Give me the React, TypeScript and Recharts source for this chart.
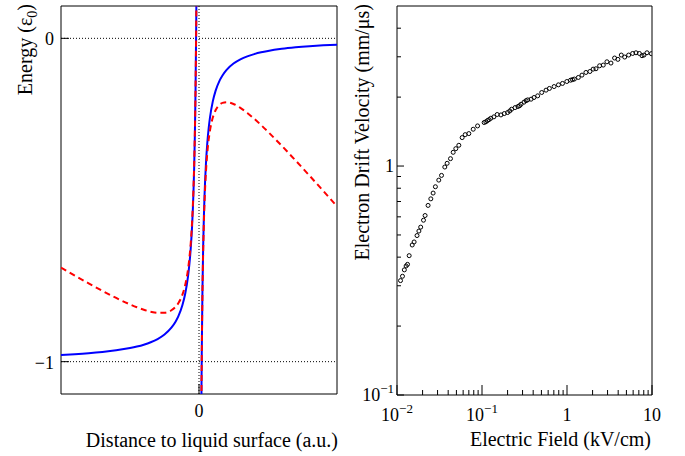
import React from 'react';
import { LineChart, ComposedChart, Line, Scatter, XAxis, YAxis, ReferenceLine, ReferenceArea } from 'recharts';

const FONT = '"Liberation Serif", "Times New Roman", Times, serif';

// ---------- Left panel: energy vs distance to liquid surface ----------
const distLiquid = [-1, -0.9, -0.8, -0.7, -0.6, -0.5, -0.45, -0.4, -0.35, -0.3, -0.25, -0.2, -0.17, -0.15, -0.12, -0.1, -0.08, -0.07, -0.06, -0.05, -0.04, -0.035, -0.03, -0.025, -0.02, -0.017, -0.015];
const blueLiquid = [-0.979, -0.9767, -0.9738, -0.97, -0.965, -0.958, -0.9533, -0.9475, -0.94, -0.93, -0.916, -0.895, -0.8765, -0.86, -0.825, -0.79, -0.7375, -0.7, -0.65, -0.58, -0.475, -0.4, -0.3, -0.16, 0.05, 0.235, 0.4];
const redLiquid = [-0.709, -0.7337, -0.7578, -0.781, -0.803, -0.823, -0.8318, -0.8395, -0.8455, -0.849, -0.8485, -0.841, -0.8306, -0.8195, -0.7926, -0.763, -0.7159, -0.6811, -0.6338, -0.5665, -0.4642, -0.3906, -0.2919, -0.1533, 0.0554, 0.2396, 0.404];

const distVacuum = [0.015, 0.017, 0.02, 0.025, 0.03, 0.035, 0.04, 0.05, 0.06, 0.07, 0.08, 0.1, 0.12, 0.15, 0.17, 0.2, 0.25, 0.3, 0.35, 0.4, 0.45, 0.5, 0.6, 0.7, 0.8, 0.9, 1.0];
const blueVacuum = [-1.3, -1.147, -0.975, -0.78, -0.65, -0.557, -0.4875, -0.39, -0.325, -0.2786, -0.2438, -0.195, -0.1625, -0.13, -0.1147, -0.0975, -0.078, -0.065, -0.0557, -0.0488, -0.0433, -0.039, -0.0325, -0.0279, -0.0244, -0.0217, -0.0195];
const redVacuum = [-1.3075, -1.1555, -0.985, -0.7925, -0.665, -0.5745, -0.5075, -0.415, -0.355, -0.3136, -0.2838, -0.245, -0.2225, -0.205, -0.1997, -0.1975, -0.203, -0.215, -0.2307, -0.2488, -0.2683, -0.289, -0.3325, -0.3779, -0.4244, -0.4717, -0.5195];

const leftXTicks = [0];
const leftYTicks = [-1, 0];

// ---------- Right panel: drift velocity vs electric field ----------
const fieldKVcm = [0.011, 0.0116, 0.0122, 0.0128, 0.0133, 0.0139, 0.0151, 0.0159, 0.0172, 0.0181, 0.019, 0.0205, 0.0214, 0.0232, 0.025, 0.0266, 0.0283, 0.031, 0.0334, 0.0365, 0.0389, 0.0426, 0.0458, 0.0492, 0.0534, 0.0584, 0.0634, 0.07, 0.0788, 0.0887, 0.106, 0.111, 0.116, 0.121, 0.127, 0.138, 0.151, 0.167, 0.183, 0.2, 0.212, 0.223, 0.245, 0.265, 0.277, 0.288, 0.312, 0.33, 0.345, 0.378, 0.409, 0.452, 0.504, 0.567, 0.621, 0.705, 0.793, 0.885, 0.995, 1.1, 1.16, 1.22, 1.36, 1.5, 1.67, 1.86, 2.03, 2.19, 2.42, 2.67, 2.95, 3.29, 3.63, 3.97, 4.35, 4.77, 5.31, 5.92, 6.48, 7.1, 7.63, 8.05, 8.73, 9.82];
const driftVelocity = [0.316, 0.33, 0.352, 0.366, 0.372, 0.406, 0.452, 0.466, 0.497, 0.52, 0.541, 0.58, 0.608, 0.673, 0.719, 0.762, 0.812, 0.868, 0.91, 0.99, 1.028, 1.077, 1.148, 1.191, 1.232, 1.331, 1.371, 1.386, 1.448, 1.497, 1.549, 1.56, 1.58, 1.595, 1.617, 1.64, 1.679, 1.672, 1.695, 1.713, 1.74, 1.771, 1.8, 1.82, 1.835, 1.862, 1.901, 1.93, 1.945, 1.959, 1.992, 2.026, 2.095, 2.145, 2.182, 2.224, 2.263, 2.295, 2.34, 2.371, 2.385, 2.398, 2.437, 2.495, 2.563, 2.588, 2.65, 2.66, 2.741, 2.76, 2.853, 2.817, 2.963, 2.924, 3.053, 2.992, 3.053, 3.103, 3.124, 3.103, 3.033, 3.053, 3.124, 3.096];

const fieldTicks = [0.01, 0.02, 0.03, 0.04, 0.05, 0.06, 0.07, 0.08, 0.09, 0.1, 0.2, 0.3, 0.4, 0.5, 0.6, 0.7, 0.8, 0.9, 1, 2, 3, 4, 5, 6, 7, 8, 9, 10];
const velocityTicks = [0.1, 0.2, 0.3, 0.4, 0.5, 0.6, 0.7, 0.8, 0.9, 1, 2, 3, 4];

const blueL = distLiquid.map((x, i) => ({ x, y: blueLiquid[i] }));
const redL = distLiquid.map((x, i) => ({ x, y: redLiquid[i] }));
const blueV = distVacuum.map((x, i) => ({ x, y: blueVacuum[i] }));
const redV = distVacuum.map((x, i) => ({ x, y: redVacuum[i] }));
const driftData = fieldKVcm.map((x, i) => ({ x, y: driftVelocity[i] }));

const isDecade = (v: number) => {
  const l = Math.log10(v);
  return Math.abs(l - Math.round(l)) < 1e-6;
};

const PowLabel = ({ v }: { v: number }) => {
  const e = Math.round(Math.log10(v));
  if (e === 0) return <tspan>1</tspan>;
  if (e === 1) return <tspan>10</tspan>;
  return (
    <>
      <tspan>10</tspan>
      <tspan dy={-8} fontSize={13}>{'\u2212' + Math.abs(e)}</tspan>
    </>
  );
};

const LeftXTick = (props: any) => {
  const { x, y, payload } = props;
  return (
    <g>
      <line x1={x} y1={y} x2={x} y2={y - 10} stroke="#000" strokeWidth={1} />
      <text x={x} y={y + 23} textAnchor="middle" fontFamily={FONT} fontSize={18} fill="#000">
        {String(payload.value).replace('-', '\u2212')}
      </text>
    </g>
  );
};

const LeftYTick = (props: any) => {
  const { x, y, payload } = props;
  return (
    <g>
      <line x1={x} y1={y} x2={x + 8} y2={y} stroke="#000" strokeWidth={1} />
      <text x={x - 7} y={y + 7} textAnchor="end" fontFamily={FONT} fontSize={18} fill="#000">
        {String(payload.value).replace('-', '\u2212')}
      </text>
    </g>
  );
};

const LogXTick = (props: any) => {
  const { x, y, payload } = props;
  const major = isDecade(payload.value);
  return (
    <g>
      <line x1={x} y1={y} x2={x} y2={y - (major ? 10 : 5)} stroke="#000" strokeWidth={1} />
      {major && (
        <text x={x} y={y + 26} textAnchor="middle" fontFamily={FONT} fontSize={18} fill="#000">
          <PowLabel v={payload.value} />
        </text>
      )}
    </g>
  );
};

const LogYTick = (props: any) => {
  const { x, y, payload } = props;
  const major = isDecade(payload.value);
  return (
    <g>
      <line x1={x} y1={y} x2={x + (major ? 7 : 4)} y2={y} stroke="#000" strokeWidth={1} />
      {major && (
        <text x={x - 3} y={y + 6} textAnchor="end" fontFamily={FONT} fontSize={18} fill="#000">
          <PowLabel v={payload.value} />
        </text>
      )}
    </g>
  );
};

const OpenCircle = (props: any) => {
  const { cx, cy } = props;
  if (cx == null || cy == null) return null;
  return <circle cx={cx} cy={cy} r={2} fill="none" stroke="#000" strokeWidth={1} />;
};

export default function App() {
  return (
    <div style={{ position: 'absolute', left: 0, top: 0, width: 685, height: 456, background: '#fff' }}>
      <div style={{ position: 'absolute', left: 0, top: 0 }}>
        <LineChart width={345} height={456} margin={{ top: 6, right: 8, left: 60, bottom: 61 }}>
          <XAxis type="number" dataKey="x" domain={[-1, 1]} allowDataOverflow ticks={leftXTicks} interval={0}
            height={1} tickSize={0} tickMargin={0} axisLine={false} tickLine={false} tick={<LeftXTick />} />
          <YAxis type="number" dataKey="y" domain={[-1.1, 0.1]} allowDataOverflow ticks={leftYTicks} interval={0}
            width={1} tickSize={0} tickMargin={0} axisLine={false} tickLine={false} tick={<LeftYTick />} />
          <ReferenceLine y={0} stroke="#000" strokeWidth={1} strokeDasharray="1 2" />
          <ReferenceLine y={-1} stroke="#000" strokeWidth={1} strokeDasharray="1 2" />
          <ReferenceLine x={0} stroke="#000" strokeWidth={1} strokeDasharray="1 2" />
          <Line data={blueL} dataKey="y" type="monotone" stroke="#0000ff" strokeWidth={2} dot={false} isAnimationActive={false} />
          <Line data={blueV} dataKey="y" type="monotone" stroke="#0000ff" strokeWidth={2} dot={false} isAnimationActive={false} />
          <Line data={redL} dataKey="y" type="monotone" stroke="#ff0000" strokeWidth={2} strokeDasharray="6 4" dot={false} isAnimationActive={false} />
          <Line data={redV} dataKey="y" type="monotone" stroke="#ff0000" strokeWidth={2} strokeDasharray="6 4" dot={false} isAnimationActive={false} />
          <ReferenceArea x1={-1} x2={1} y1={-1.1} y2={0.1} fill="none" fillOpacity={0} stroke="#000" strokeWidth={1} strokeOpacity={1} />
        </LineChart>
      </div>
      <div style={{ position: 'absolute', left: 345, top: 0 }}>
        <ComposedChart width={340} height={456} margin={{ top: 6, right: 33, left: 51, bottom: 60 }}>
          <XAxis type="number" dataKey="x" scale="log" domain={[0.01, 10]} allowDataOverflow ticks={fieldTicks} interval={0}
            height={1} tickSize={0} tickMargin={0} axisLine={false} tickLine={false} tick={<LogXTick />} />
          <YAxis type="number" dataKey="y" scale="log" domain={[0.1, 5]} allowDataOverflow ticks={velocityTicks} interval={0}
            width={1} tickSize={0} tickMargin={0} axisLine={false} tickLine={false} tick={<LogYTick />} />
          <Scatter data={driftData} dataKey="y" shape={<OpenCircle />} isAnimationActive={false} />
          <ReferenceArea x1={0.01} x2={10} y1={0.1} y2={5} fill="none" fillOpacity={0} stroke="#000" strokeWidth={1} strokeOpacity={1} />
        </ComposedChart>
      </div>
      <svg width={685} height={456} style={{ position: 'absolute', left: 0, top: 0, pointerEvents: 'none' }}>
        <g fontFamily={FONT} fontSize={20} fill="#000">
          <text x={338} y={447} textAnchor="end">Distance to liquid surface (a.u.)</text>
          <text transform="translate(32,4) rotate(-90)" textAnchor="end">
            Energy (ε<tspan dy={5} fontSize={14}>0</tspan><tspan dy={-5}>)</tspan>
          </text>
          <text x={651} y={446} textAnchor="end">Electric Field (kV/cm)</text>
          <text transform="translate(369,4) rotate(-90)" textAnchor="end">Electron Drift Velocity (mm/μs)</text>
        </g>
      </svg>
    </div>
  );
}
